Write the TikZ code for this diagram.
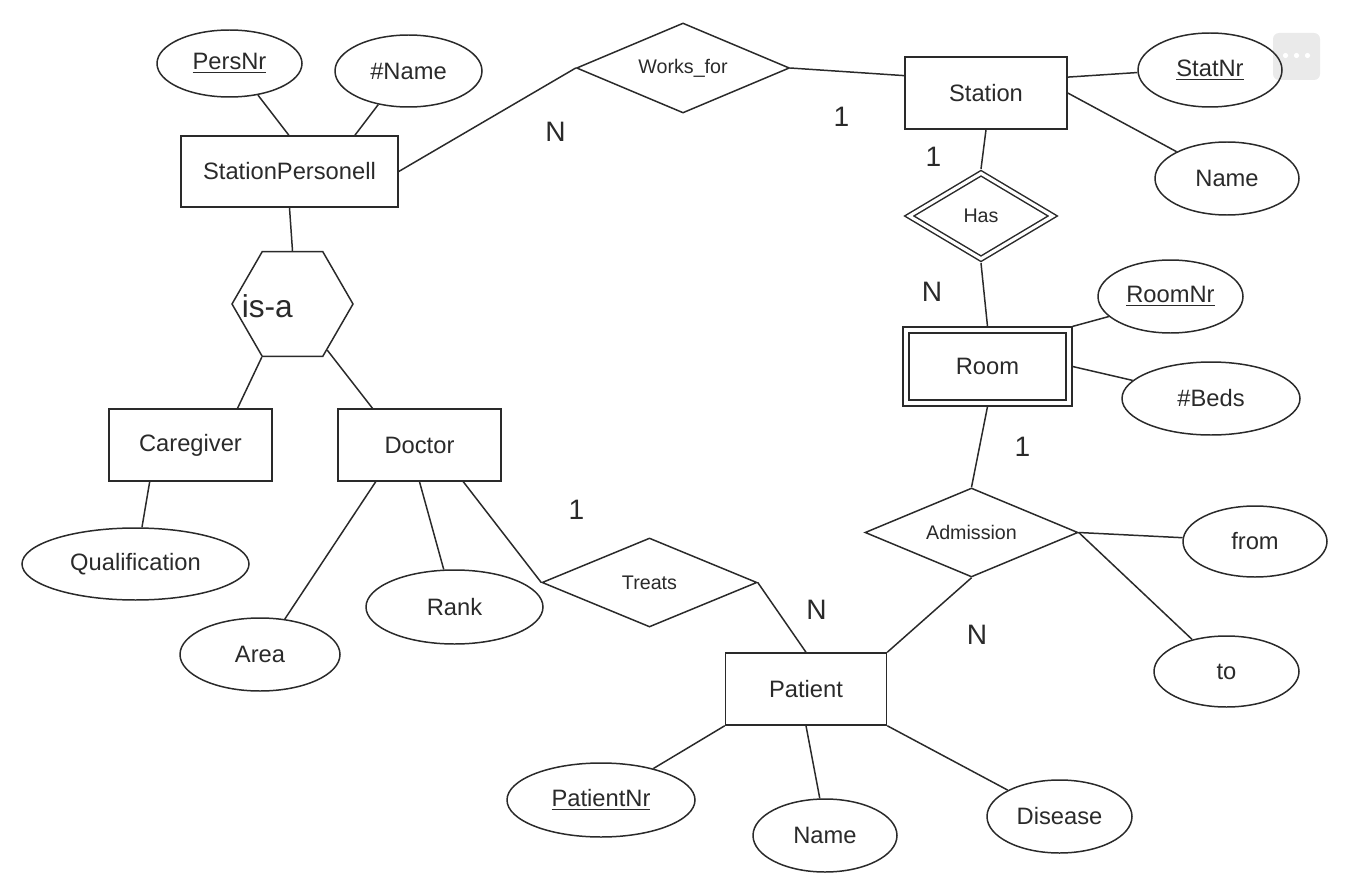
\documentclass[tikz,border=0pt]{standalone}
\usepackage{fontspec}
\setmainfont{Liberation Sans}
\usetikzlibrary{shapes.geometric,calc}
\definecolor{ink}{HTML}{2A2A2A}
\definecolor{menugray}{HTML}{EAEAEA}
\newcommand\labelsize{\fontsize{13.5}{16}\selectfont}
\newcommand\relsize{\fontsize{11.2}{13}\selectfont}
\newcommand\isasize{\fontsize{18}{21}\selectfont}
\newcommand\cardsize{\fontsize{16}{19}\selectfont}
\begin{document}
\begin{tikzpicture}[x=0.02cm,y=-0.02cm,color=ink,line width=0.85pt,
  base/.style={font=\labelsize, inner sep=0pt},
  sz/.style 2 args={minimum width=#1*0.02cm, minimum height=#2*0.02cm},
  entity/.style={base, rectangle, draw},
  weakentity/.style={entity, double, double distance=2.4pt, outer sep=2.05pt},
  attr/.style={base, ellipse, draw},
  rel/.style={base, diamond, draw, aspect=2.4, font=\relsize},
  weakrel/.style={rel, double, double distance=1.8pt, outer sep=1.75pt, aspect=1.66},
  card/.style={font=\cardsize, inner sep=0pt},
]
\useasboundingbox (0,0) rectangle (1346,882);

% menu button in the top right corner
\node[fill=menugray, draw=none, rounded corners=0.12cm, sz={47}{47}] (menu) at (1296.5,56.5) {};
\foreach \dx in {-11,0,11}
  \fill[white] ($(menu.center)+(\dx,-1)$) circle[radius=2.6];

% entities, attributes and relationships
\node[entity, sz={217}{71}] (sp) at (289.5,171.5) {StationPersonell};
\node[attr, sz={145}{67}] (persnr) at (229.5,63.5) {\underline{PersNr}};
\node[attr, sz={147}{72}] (hname) at (408.5,71) {\#Name};
\node[rel, sz={213}{90}] (wf) at (683,68) {Works\_for};
\node[entity, sz={162}{72}] (st) at (986,93) {Station};
\node[attr, sz={144}{74}] (statnr) at (1210,70) {\underline{StatNr}};
\node[attr, sz={144}{73}] (stname) at (1227,178.5) {Name};
\node[weakrel, sz={146}{88}] (has) at (981,216) {Has};
\node[weakentity, sz={163}{73}] (room) at (987.5,366.5) {Room};
\node[attr, sz={145}{73}] (roomnr) at (1170.5,296.5) {\underline{RoomNr}};
\node[attr, sz={178}{73}] (beds) at (1211,398.5) {\#Beds};
\node[rel, sz={213}{89}] (adm) at (971.5,532.5) {Admission};
\node[attr, sz={144}{71}] (from) at (1255,541.5) {from};
\node[attr, sz={145}{71}] (to) at (1226.5,671.5) {to};
\node[regular polygon, regular polygon sides=6, draw, inner sep=0pt,
      minimum size=121*0.02cm,
      label={[anchor=west, inner sep=0pt, xshift=0.2cm, yshift=-0.05cm, font=\isasize]west:is-a}]
      (isa) at (292.5,304) {};
\node[entity, sz={163}{72}] (cg) at (190.5,445) {Caregiver};
\node[entity, sz={163}{72}] (doc) at (419.5,445) {Doctor};
\node[attr, sz={227}{72}] (qual) at (135.5,564) {Qualification};
\node[attr, sz={160}{73}] (area) at (260,654.5) {Area};
\node[attr, sz={177}{74}] (rank) at (454.5,607) {Rank};
\node[rel, sz={215}{89}] (treats) at (649.5,582.5) {Treats};
\node[entity, sz={161}{72}] (pat) at (806,689) {Patient};
\node[attr, sz={188}{74}] (patnr) at (601,800) {\underline{PatientNr}};
\node[attr, sz={144}{73}] (pname) at (825,835.5) {Name};
\node[attr, sz={145}{73}] (dis) at (1059.5,816.5) {Disease};

% cardinalities
\node[card] (c1) at (555.5,132) {N};
\node[card] (c2) at (841.5,117) {1};
\node[card] (c3) at (933.5,156.5) {1};
\node[card] (c4) at (932,292) {N};
\node[card] (c5) at (1022.5,447) {1};
\node[card] (c6) at (576.5,510) {1};
\node[card] (c7) at (816.5,610) {N};
\node[card] (c8) at (977,634.5) {N};

% connectors
\draw (persnr.312) -- (sp.91);
\draw (hname.228) -- (sp.29);
\draw (sp.east) -- (wf.west);
\draw (wf.east) -- (st.168);
\draw (st.11) -- (statnr.182);
\draw (st.east) -- (stname.152);
\draw (st.south) -- (has.north);
\draw (has.south) -- (room.north);
\draw (room.north east) -- (roomnr.198);
\draw (room.east) -- (beds.167);
\draw (room.south) -- (adm.north);
\draw (adm.east) -- (from.177);
\draw (adm.east) -- (to.137);
\draw (adm.south) -- (pat.north east);
\draw (sp.south) -- (isa.north);
\draw (isa.240) -- (cg.38);
\draw (isa.307) -- (doc.142);
\draw (cg.222) -- (qual.80);
\draw (doc.220) -- (area.55);
\draw (doc.south) -- (rank.106);
\draw (doc.320) -- (treats.west);
\draw (treats.east) -- (pat.north);
\draw (pat.south west) -- (patnr.31);
\draw (pat.south) -- (pname.98);
\draw (pat.south east) -- (dis.153);
\end{tikzpicture}
\end{document}
